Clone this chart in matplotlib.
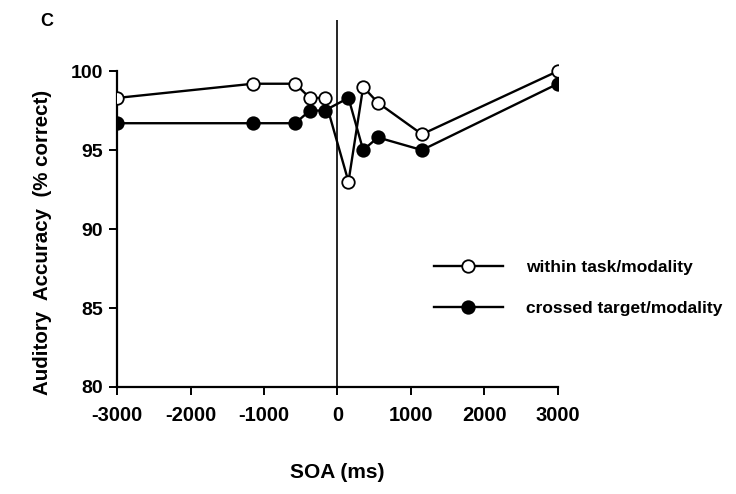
import matplotlib
matplotlib.use("Agg")
import matplotlib.pyplot as plt

plt.rcParams['font.family'] = ['Liberation Sans', 'DejaVu Sans']
plt.rcParams['font.weight'] = 'bold'

soa = [-3000, -1150, -575, -375, -175, 150, 350, 550, 1150, 3000]
within = [98.3, 99.2, 99.2, 98.3, 98.3, 93.0, 99.0, 98.0, 96.0, 100.0]
crossed = [96.7, 96.7, 96.7, 97.5, 97.5, 98.3, 95.0, 95.8, 95.0, 99.2]
xticks = [-3000, -2000, -1000, 0, 1000, 2000, 3000]
yticks = [80, 85, 90, 95, 100]
labels = ["within task/modality", "crossed target/modality"]

fig = plt.figure(figsize=(7.36, 4.94), dpi=100)
ax = fig.add_axes([0.159, 0.2166, 0.599, 0.7434])

ax.plot(soa, within, color='black', lw=1.7, marker='o', ms=9,
        mfc='white', mec='black', mew=1.3, label=labels[0], zorder=3)
ax.plot(soa, crossed, color='black', lw=1.7, marker='o', ms=9,
        mfc='black', mec='black', mew=1.3, label=labels[1], zorder=3)
ax.axvline(0, color='black', lw=1.2, zorder=1)

ax.set_xlim(-3000, 3000)
ax.set_ylim(80, 103.25)
ax.set_xticks(xticks)
ax.set_yticks(yticks)
ax.set_xticklabels([str(t) for t in xticks], fontsize=14.5, fontweight='bold')
ax.set_yticklabels([str(t) for t in yticks], fontsize=14, fontweight='bold')
ax.spines['top'].set_visible(False)
ax.spines['right'].set_visible(False)
ax.spines['left'].set_bounds(80, 100)
ax.spines['left'].set_linewidth(1.6)
ax.spines['bottom'].set_linewidth(1.6)
ax.tick_params(direction='out', length=6, width=1.4)
ax.tick_params(axis='x', pad=8)
ax.tick_params(axis='y', pad=4)

ax.set_ylabel("Auditory  Accuracy  (% correct)", fontsize=14.8, fontweight='bold', va='center')
ax.yaxis.set_label_coords(-0.170, 0.395)
ax.set_xlabel("SOA (ms)", fontsize=15, fontweight='bold', va='center')
ax.xaxis.set_label_coords(0.5, -0.232)

leg = ax.legend(loc='upper left', bbox_to_anchor=(0.718, 0.345), frameon=False,
                fontsize=12.5, handlelength=4.0, handletextpad=1.3,
                labelspacing=1.45, borderaxespad=0, borderpad=0)
for t in leg.get_texts():
    t.set_fontweight('bold')

fig.text(40 / 736, 1 - 21 / 494, "C", fontsize=13, fontweight='bold', va='center')

fig.savefig("out.png", dpi=100)
